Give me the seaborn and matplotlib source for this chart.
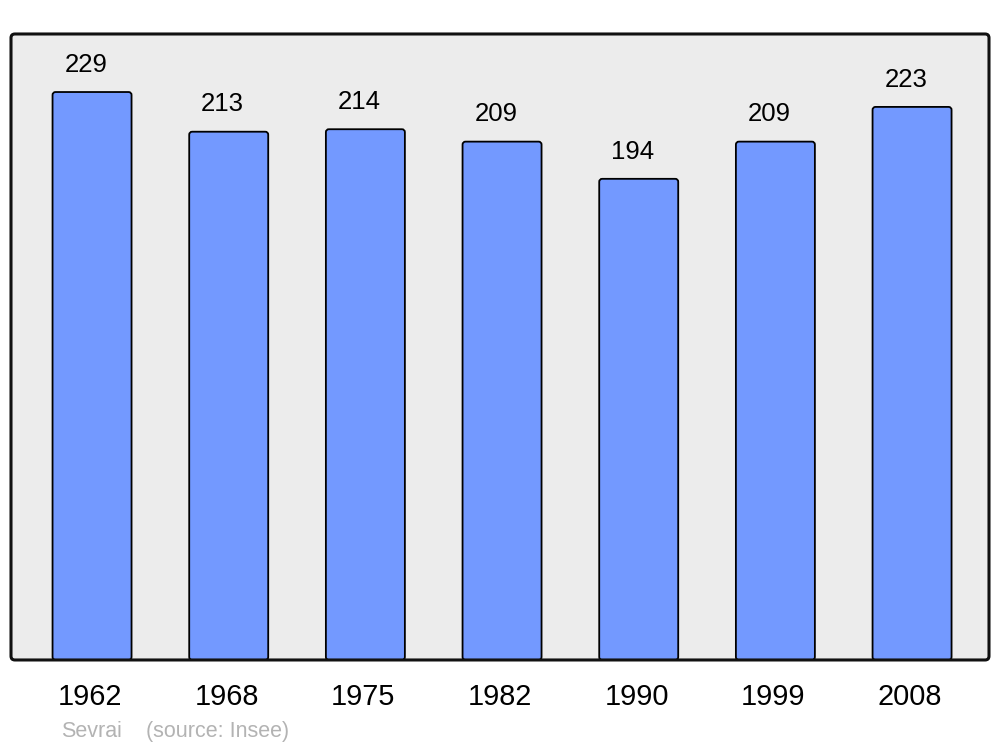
import matplotlib
matplotlib.use('Agg')
import matplotlib.pyplot as plt
import matplotlib.transforms as mtransforms
from matplotlib.patches import FancyBboxPatch
import seaborn as sns

# population data for Sevrai
years = ['1962', '1968', '1975', '1982', '1990', '1999', '2008']
population = [229, 213, 214, 209, 194, 209, 223]

sns.set_style('white')
plt.rcParams['font.family'] = ['Liberation Sans', 'DejaVu Sans']

fig = plt.figure(figsize=(10, 7.47), dpi=100)
axes = fig.add_axes([0.011, 0.1165, 0.978, 0.838])

sns.barplot(x=years, y=population, color='#7399ff', saturation=1,
            width=0.578, edgecolor='black', linewidth=1.3, ax=axes)

axes.set_facecolor('#ececec')
axes.set_xlim(-0.593, 6.563)
axes.set_ylim(0, 252.4)
axes.set_yticks([])
axes.set(xlabel='', ylabel='')
axes.tick_params(axis='x', length=0, pad=16.5, labelsize=20.8, labelcolor='black')
# the year labels sit a touch left of the bar centres
shift = mtransforms.ScaledTranslation(-2 / 100, 0, fig.dpi_scale_trans)
for label in axes.get_xticklabels():
    label.set_transform(label.get_transform() + shift)

# swap the plain bars for ones with slightly rounded corners
px_x = 1 / 136.7   # data units per pixel, x
px_y = 1 / 2.48    # data units per pixel, y
bars = list(axes.patches)
for bar in bars:
    rounded = FancyBboxPatch((bar.get_x(), 0), bar.get_width(), bar.get_height(),
                             boxstyle=f'round,pad=0,rounding_size={3 * px_x}',
                             mutation_aspect=px_y / px_x,
                             facecolor='#7399ff', edgecolor='black', linewidth=1.3)
    axes.add_patch(rounded)
    bar.set_visible(False)

# rounded frame
for side in axes.spines.values():
    side.set_visible(False)
frame = FancyBboxPatch((0, 0), 1, 1, boxstyle='round,pad=0,rounding_size=0.004',
                       mutation_aspect=978 / 626, transform=axes.transAxes,
                       facecolor='none', edgecolor='#111111', linewidth=2.2,
                       clip_on=False, zorder=5)
axes.add_patch(frame)

# value labels above bars
for bar, value in zip(bars, population):
    axes.annotate(str(value), (bar.get_x() + bar.get_width() / 2, bar.get_height()),
                  xytext=(-4.5, 11), textcoords='offset points',
                  ha='center', va='bottom', fontsize=18.5, color='black')

fig.text(0.061, 0.021, 'Sevrai', fontsize=15.5, color='#b3b3b3', va='center')
fig.text(0.146, 0.021, '(source: Insee)', fontsize=15.5, color='#b3b3b3', va='center')

fig.savefig('out.png', dpi=100)
